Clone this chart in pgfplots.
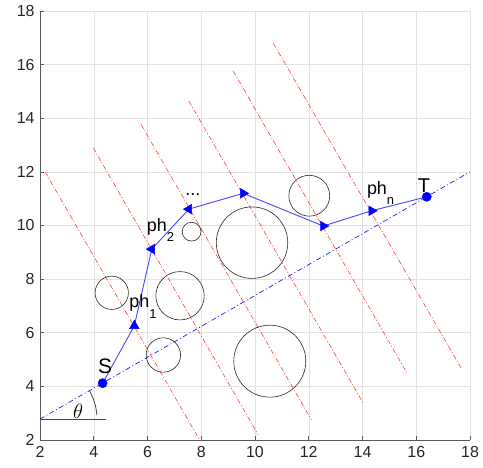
\documentclass[border=0pt]{standalone}
\usepackage{fontspec}
\setmainfont{Liberation Sans}
\usepackage{pgfplots}
\pgfplotsset{compat=1.18}
\usepackage{pgfplotstable}
\definecolor{gridgray}{RGB}{226,226,226}
\definecolor{axisgray}{RGB}{90,90,90}
\definecolor{labelgray}{RGB}{38,38,38}
\definecolor{circgray}{RGB}{40,40,40}
\definecolor{redline}{RGB}{255,60,60}
\definecolor{blueline}{RGB}{30,30,255}
\definecolor{pathblue}{RGB}{70,70,255}
\definecolor{arcgray}{RGB}{70,70,70}

\pgfplotstableread{
x y r
4.67 7.49 0.62
7.21 7.38 0.90
6.59 5.17 0.64
7.64 9.77 0.35
9.89 9.36 1.33
12.02 11.11 0.76
10.55 4.94 1.34
}\circles

\pgfplotstableread{
x y
4.33 4.12
5.51 6.26
6.16 9.12
7.54 10.61
9.56 11.20
12.54 9.98
14.34 10.55
16.39 11.07
}\pathpts

\begin{document}
\begin{tikzpicture}
\useasboundingbox (-40bp,-28bp) rectangle (443bp,440bp);
\begin{axis}[
  at={(0,0)}, anchor=south west,
  scale only axis, width=430bp, height=429bp,
  xmin=2, xmax=18, ymin=2, ymax=18,
  xtick={2,4,...,18}, ytick={2,4,...,18},
  grid=major, grid style={color=gridgray, line width=0.5bp},
  axis x line*=bottom, axis y line*=left,
  axis line style={-, draw=axisgray, line width=0.7bp},
  tick align=inside, major tick length=4bp,
  tick style={axisgray, line width=0.6bp},
  ticklabel style={font=\fontsize{16}{16}\selectfont, text=labelgray},
  /pgf/number format/assume math mode=true,
  xticklabel style={yshift=-3bp},
  yticklabel style={xshift=-2bp},
  redl/.style={redline, line width=0.6bp, dash pattern=on 5bp off 2bp on 1bp off 2bp},
]
% red perpendicular lines
\addplot[redl] coordinates {(2.19,12.00) (7.94,2.00)};
\addplot[redl] coordinates {(3.98,12.90) (10.12,2.19)};
\addplot[redl] coordinates {(5.76,13.77) (12.10,2.75)};
\addplot[redl] coordinates {(7.54,14.64) (14.03,3.37)};
\addplot[redl] coordinates {(9.19,15.76) (15.64,4.52)};
\addplot[redl] coordinates {(10.68,16.80) (17.69,4.65)};
% blue dash-dot line
\addplot[blueline, line width=0.7bp, dash pattern=on 5bp off 2.5bp on 1bp off 2.5bp] coordinates {(2,2.78) (18,12.0)};
% theta base line
\addplot[arcgray, line width=0.8bp] coordinates {(2,2.78) (4.46,2.78)};
% circles
\addplot[scatter, only marks, mark=o, line width=0.6bp,
  scatter/use mapped color={draw=circgray},
  visualization depends on={\thisrow{r}*26.97 \as \rad},
  scatter/@pre marker code/.append style={/tikz/mark size=\rad}]
  table[x=x, y=y] {\circles};
% path
\addplot[pathblue, line width=0.9bp, no markers] table[x=x, y=y] {\pathpts};
\addplot[blue, only marks, mark=*, mark size=4.6bp] coordinates {(4.33,4.12) (16.39,11.07)};
\addplot[blue, only marks, mark=triangle*, mark size=5.6bp] coordinates {(5.51,6.26)};
\addplot[blue, only marks, mark=triangle*, mark size=5.6bp, mark options={rotate=90}] coordinates {(6.16,9.12) (7.54,10.61)};
\addplot[blue, only marks, mark=triangle*, mark size=5.6bp, mark options={rotate=-90}] coordinates {(9.56,11.20) (12.54,9.98) (14.34,10.55)};
% arc
\draw[arcgray, line width=0.8bp] (axis cs:2,2.78) ++(4:57bp) arc[start angle=4, end angle=30, radius=57bp];
% labels
\node[anchor=center, inner sep=0, font=\fontsize{22}{22}\selectfont] at (axis cs:3.42,3.07) {$\theta$};
\node[anchor=base, inner sep=0, font=\fontsize{21}{21}\selectfont] at (axis cs:4.42,4.49) {S};
\node[anchor=base, inner sep=0, font=\fontsize{20}{20}\selectfont] at (axis cs:16.29,11.22) {T};
\node[anchor=base west, inner sep=0, font=\fontsize{18}{18}\selectfont] at (axis cs:5.32,6.96) {ph\raisebox{-11bp}{\fontsize{13}{13}\selectfont 1}};
\node[anchor=base west, inner sep=0, font=\fontsize{18}{18}\selectfont] at (axis cs:5.97,9.77) {ph\raisebox{-10bp}{\fontsize{13}{13}\selectfont 2}};
\node[anchor=base west, inner sep=0, font=\fontsize{18}{18}\selectfont] at (axis cs:14.16,11.14) {ph\raisebox{-10bp}{\fontsize{13}{13}\selectfont n}};
\node[anchor=base west, inner sep=0, font=\fontsize{18}{18}\selectfont] at (axis cs:7.40,11.12) {...};
\end{axis}
\end{tikzpicture}
\end{document}
